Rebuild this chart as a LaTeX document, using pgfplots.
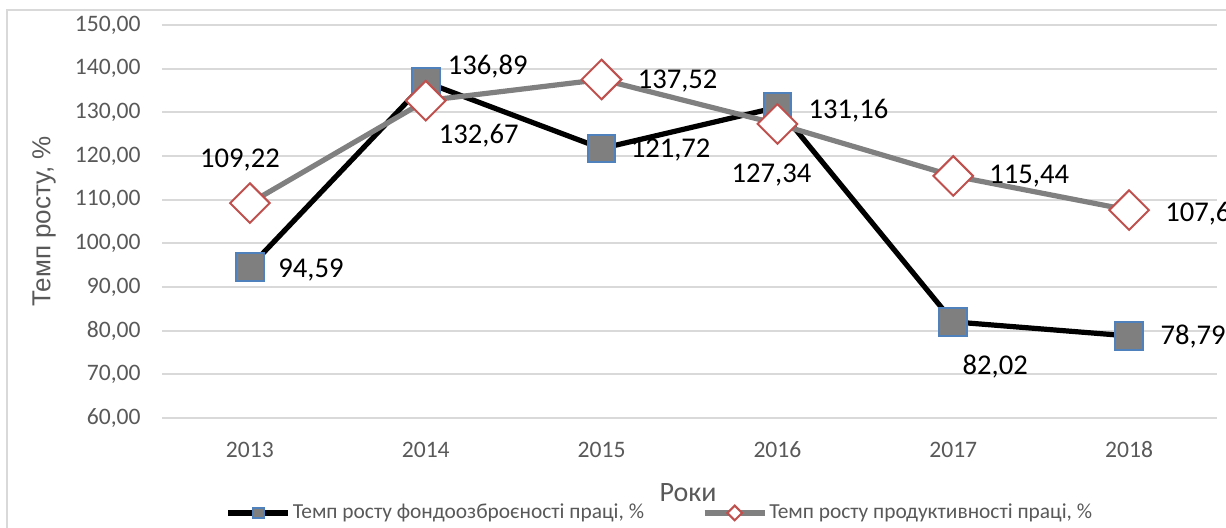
\documentclass[border=0pt]{standalone}
\usepackage{pgfplots}
\usepackage{pgfplotstable}
\pgfplotsset{compat=1.18}
\usepackage{fontspec}
\setmainfont{Carlito}
\newfontfamily\arialfont{Liberation Sans}
\definecolor{tickgray}{HTML}{595959}
\definecolor{gridgray}{HTML}{D9D9D9}
\definecolor{mblue}{HTML}{4F81BD}
\definecolor{mred}{HTML}{C0504D}
\definecolor{lgray}{HTML}{808080}
\definecolor{mfill}{HTML}{7F7F7F}

\pgfplotstableread{
x y dx dy
0 94.59 30.5 -1.5
1 136.89 31 8
2 121.72 34.5 -1
3 131.16 35.5 -1.5
4 82.02 21 -22.5
5 78.79 32 -0.5
}\tabA
\pgfplotstableread{
x y dx dy
0 109.22 -5 21.5
1 132.67 26.5 -17.5
2 137.52 38 -1
3 127.34 -3 -25.5
4 115.44 38 0
5 107.61 38 -2
}\tabB

\begin{document}
\begin{tikzpicture}
\draw[gridgray, line width=0.8pt] (-77.5pt,-60pt) rectangle (560pt,204pt);
\begin{axis}[
  scale only axis, width=527.5pt, height=196.5pt,
  xmin=-0.5, xmax=5.5, ymin=60, ymax=150,
  ytick={60,70,...,150},
  xtick={0,...,5}, xticklabels={2013,2014,2015,2016,2017,2018},
  ymajorgrids, grid style={gridgray, line width=0.9pt},
  axis line style={draw=none}, major tick length=0pt,
  clip=false,
  tick label style={font=\fontsize{11.8}{14}\selectfont, text=tickgray},
  /pgf/number format/.cd, fixed, fixed zerofill, precision=2, use comma, assume math mode=true, 1000 sep={},
  /pgfplots/.cd,
  yticklabel style={anchor=east, inner sep=0pt, xshift=-10.5pt},
  xticklabel style={anchor=center, inner sep=0pt, yshift=-16pt},
  ylabel={Темп росту, \%},
  xlabel={Роки},
  every axis y label/.style={at={(axis description cs:-0.1118,0.5)}, rotate=90, anchor=center, font=\arialfont\fontsize{13}{15}\selectfont, text=tickgray},
  every axis x label/.style={at={(axis description cs:0.4986,-0.191)}, anchor=center, font=\fontsize{14}{16}\selectfont, text=tickgray},
  legend columns=2,
  legend style={at={(axis description cs:0.472,-0.2417)}, anchor=center, draw=none, fill=none,
    font=\fontsize{10.7}{12}\selectfont, text=tickgray, column sep=0pt,
    nodes={inner xsep=1pt},
    /tikz/every even column/.append style={column sep=28pt}},
  legend image code/.code={%
    \draw[#1, mark=none] (0pt,0pt) -- (30pt,0pt);
    \draw[#1, only marks, mark size=2.6pt] plot coordinates {(15pt,0pt)};},
  nodes near coords,
  point meta=y,
  every node near coord/.style={anchor=center, font=\fontsize{14.3}{16}\selectfont, text=black},
]
\addplot[black, line width=2.6pt, mark=square*, mark size=6.9pt,
  mark options={fill=mfill, draw=mblue, line width=1pt},
  visualization depends on={\thisrow{dx} \as \dx},
  visualization depends on={\thisrow{dy} \as \dy},
  every node near coord/.append style={xshift=\dx pt, yshift=\dy pt}]
  table[x=x, y=y] {\tabA};
\addlegendentry{Темп росту фондоозброєності праці, \%}
\addplot[lgray, line width=2.6pt, mark=square*, mark size=7pt,
  mark options={rotate=45, fill=white, draw=mred, line width=1pt},
  visualization depends on={\thisrow{dx} \as \dx},
  visualization depends on={\thisrow{dy} \as \dy},
  every node near coord/.append style={xshift=\dx pt, yshift=\dy pt}]
  table[x=x, y=y] {\tabB};
\addlegendentry{Темп росту продуктивності праці, \%}
\end{axis}
\pgfresetboundingbox
\path[use as bounding box] (-81pt,-55pt) rectangle (532pt,209pt);
\end{tikzpicture}
\end{document}
